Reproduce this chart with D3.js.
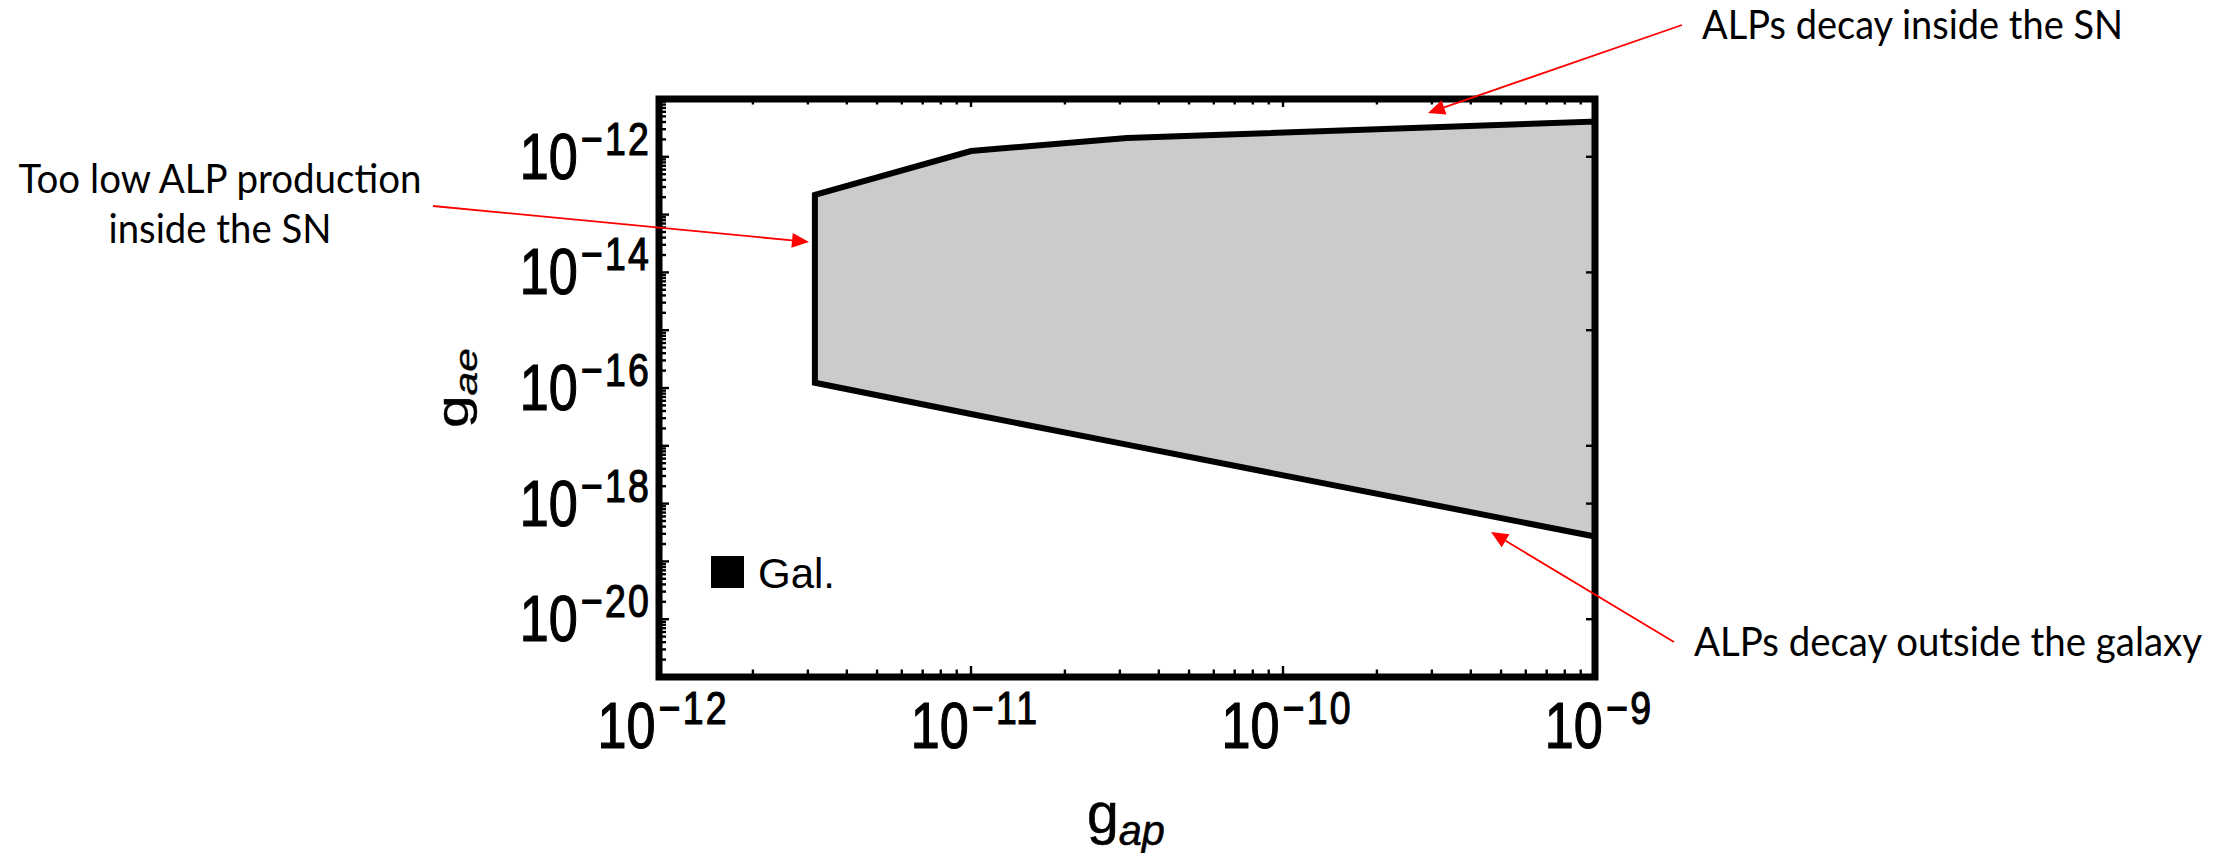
<!DOCTYPE html>
<html>
<head>
<meta charset="utf-8">
<script src="https://cdn.jsdelivr.net/npm/d3@7"></script>
<style>
  html, body { margin: 0; padding: 0; background: #ffffff; }
  svg { display: block; }
</style>
</head>
<body>
<svg id="chart" width="2234" height="853"></svg>
<script>
// ---------------- data ----------------
const gap      = [3.16e-12, 1e-11,   3.16e-11, 1e-9];     // g_ap values along the region
const gaeUpper = [2.19e-13, 1.26e-12, 2.11e-12, 4.07e-12]; // upper boundary (ALPs decay inside the SN)
const gaeLower = [1.23e-16, 3.55e-17, 1.05e-17, 2.69e-19]; // lower boundary (ALPs decay outside the galaxy)

const xDomain = [1e-12, 1e-9];
const yDomain = [1e-21, 1e-11];
const xTickExponents = [-12, -11, -10, -9];
const yTickExponents = [-12, -14, -16, -18, -20];
const yRightTicks = [1e-12, 1e-14, 1e-15, 1e-17, 1e-18, 1e-20];

const legendLabel = "Gal.";
const xTitle = ["g", "ap"];
const yTitle = ["g", "ae"];
const annotations = [
  { lines: ["Too low ALP production", "inside the SN"] },
  { lines: ["ALPs decay inside the SN"] },
  { lines: ["ALPs decay outside the galaxy"] }
];

// ---------------- layout ----------------
const svg = d3.select("#chart");
const L = 659, R = 1595, T = 99, B = 677;
const x = d3.scaleLog().domain(xDomain).range([L, R]);
const y = d3.scaleLog().domain(yDomain).range([B, T]);
const mathFont = "'Liberation Sans', Arial, Helvetica, sans-serif";

// region polygon
const pts = gap.map((g, i) => [x(g), y(gaeUpper[i])])
  .concat(gap.map((g, i) => [x(g), y(gaeLower[i])]).reverse());
svg.append("path")
  .attr("d", d3.line()(pts) + "Z")
  .attr("fill", "#cbcbcb")
  .attr("stroke", "#000")
  .attr("stroke-width", 6)
  .attr("stroke-linejoin", "miter");

// minor/major tick positions
function logTicks(lo, hi) {
  const out = [];
  for (let e = Math.round(Math.log10(lo)); e < Math.round(Math.log10(hi)); e++) {
    for (let m = 1; m <= 9; m++) out.push({ v: m * Math.pow(10, e), major: m === 1 });
  }
  out.push({ v: hi, major: true });
  return out;
}
const xt = logTicks(xDomain[0], xDomain[1]);
const yt = logTicks(yDomain[0], yDomain[1]);
const tickG = svg.append("g").attr("stroke", "#000").attr("stroke-width", 2.4);

tickG.selectAll("line.xb").data(xt).join("line")
  .attr("x1", d => x(d.v)).attr("x2", d => x(d.v))
  .attr("y1", B).attr("y2", d => B - (d.major ? 11 : 7.5));
tickG.selectAll("line.xt").data(xt).join("line")
  .attr("x1", d => x(d.v)).attr("x2", d => x(d.v))
  .attr("y1", T).attr("y2", d => T + (d.major ? 8 : 5.5));
tickG.selectAll("line.yl").data(yt).join("line")
  .attr("x1", L).attr("x2", d => L + (d.major ? 10 : 7))
  .attr("y1", d => y(d.v)).attr("y2", d => y(d.v));
tickG.selectAll("line.yr").data(yRightTicks).join("line")
  .attr("x1", R).attr("x2", R - 9)
  .attr("y1", d => y(d)).attr("y2", d => y(d));

// frame
svg.append("rect")
  .attr("x", L).attr("y", T).attr("width", R - L).attr("height", B - T)
  .attr("fill", "none").attr("stroke", "#000").attr("stroke-width", 7);

// tick labels (10^n), fitted to the glyph boxes measured on the reference
const FS = 48, DIGIT_W = 58, DIGIT_H = 46, SUP_H = 33, SUP_RISE = 11;
function powLabel(px, py, exp, align) {
  const outer = svg.append("g");
  const inner = outer.append("g");
  const t = inner.append("text")
    .attr("font-family", mathFont).attr("font-size", FS)
    .attr("fill", "#000").attr("stroke", "#000").attr("stroke-width", 0.9);
  const base = t.append("tspan").text("10");
  const sup = t.append("tspan").text("\u2212" + Math.abs(exp));
  const wb = base.node().getComputedTextLength() || FS * 1.112;
  const sx = DIGIT_W / wb;
  const sy = DIGIT_H / (FS * 0.716);
  const supFS = SUP_H / (0.716 * sy);
  const digitTop = FS * 0.716;
  sup.attr("font-size", supFS)
    .attr("dx", 3)
    .attr("letter-spacing", 2)
    .attr("dy", -(digitTop + SUP_RISE / sy - supFS * 0.716));
  inner.attr("transform", `scale(${sx},${sy})`);
  const bb = t.node().getBBox();
  const w = bb.width * sx, left = bb.x * sx;
  const tx = align === "end" ? px - (left + w) : px - (left + w / 2);
  outer.attr("transform", `translate(${tx},${py})`);
}
xTickExponents.forEach(e => powLabel(x(Math.pow(10, e)) + 4, 748, e, "middle"));
yTickExponents.forEach(e => powLabel(651, y(Math.pow(10, e)) + 22, e, "end"));

// axis titles
function subLabel(px, py, rot, parts, anchor, targetLen, targetH) {
  const outer = svg.append("g").attr("transform", `translate(${px},${py})`);
  const mid = outer.append("g");
  const inner = mid.append("g").attr("transform", rot ? "rotate(-90)" : null);
  const t = inner.append("text")
    .attr("font-family", mathFont).attr("font-size", 44)
    .attr("text-anchor", anchor).attr("fill", "#000")
    .attr("stroke", "#000").attr("stroke-width", 0.4);
  t.append("tspan").text(parts[0]);
  t.append("tspan").attr("font-size", 32).attr("font-style", "italic").attr("dy", 9).text(parts[1]);
  const len = t.node().getComputedTextLength() || 60;
  const sLen = targetLen / len;
  const sH = targetH / 44;
  mid.attr("transform", rot ? `scale(${sH},${sLen})` : `scale(${sLen},${sH})`);
}
subLabel(1087, 833, false, xTitle, "start", 78, 58);
subLabel(468, 388, true, yTitle, "middle", 80, 44);

// legend
svg.append("rect").attr("x", 711).attr("y", 556).attr("width", 33).attr("height", 32).attr("fill", "#000");
svg.append("text").attr("x", 758).attr("y", 588)
  .attr("font-family", mathFont).attr("font-size", 43).attr("fill", "#000")
  .attr("textLength", 77).attr("lengthAdjust", "spacingAndGlyphs")
  .text(legendLabel);

// annotations
const annFont = "Lato, 'Open Sans', sans-serif";
const annLayout = [
  { x: 220, ys: [193, 243], widths: [403, 223], anchor: "middle", from: [433, 206], to: [809, 242] },
  { x: 1702, ys: [39], widths: [421], anchor: "start", from: [1682, 25], to: [1428, 113] },
  { x: 1694, ys: [656], widths: [508], anchor: "start", from: [1674, 642], to: [1491, 532] }
];
annotations.forEach((a, i) => {
  const lay = annLayout[i];
  a.lines.forEach((ln, j) => {
    svg.append("text")
      .attr("x", lay.x).attr("y", lay.ys[j])
      .attr("font-family", annFont).attr("font-size", 40)
      .attr("text-anchor", lay.anchor).attr("fill", "#000")
      .attr("textLength", lay.widths[j]).attr("lengthAdjust", "spacingAndGlyphs")
      .text(ln);
  });
  const [x0, y0] = lay.from, [x1, y1] = lay.to;
  const dx = x1 - x0, dy = y1 - y0, len = Math.hypot(dx, dy);
  const ux = dx / len, uy = dy / len, hl = 17, hw = 7.5;
  const bx = x1 - ux * hl, by = y1 - uy * hl;
  svg.append("line").attr("x1", x0).attr("y1", y0).attr("x2", bx).attr("y2", by)
    .attr("stroke", "#ff0000").attr("stroke-width", 1.8);
  svg.append("path")
    .attr("d", `M${x1},${y1}L${bx - uy * hw},${by + ux * hw}L${bx + uy * hw},${by - ux * hw}Z`)
    .attr("fill", "#ff0000");
});
</script>
</body>
</html>
